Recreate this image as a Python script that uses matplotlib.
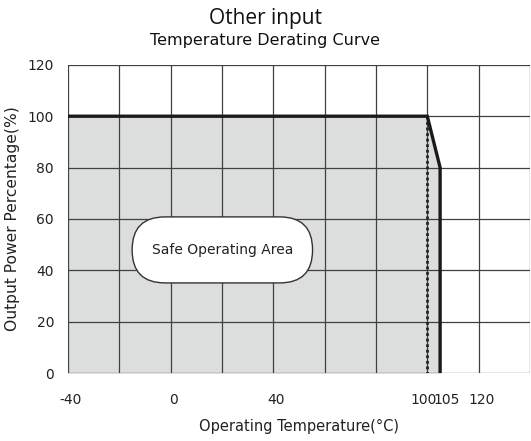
import matplotlib
matplotlib.use("Agg")
import matplotlib.pyplot as plt
import matplotlib.transforms as mtransforms
from matplotlib.patches import FancyBboxPatch

# derating curve
temp = [-40, 100, 105, 105]
power = [100, 100, 80, 0]
limit_temp = [100, 100]
limit_power = [100, 0]

x_ticks = [-40, 0, 40, 100, 105, 120]
y_ticks = [0, 20, 40, 60, 80, 100, 120]
x_grid = [-40, -20, 0, 20, 40, 60, 80, 100, 120, 140]

plt.rcParams["font.family"] = "DejaVu Sans"

fig = plt.figure(figsize=(5.31, 4.41), dpi=100)
ax = fig.add_axes([0.128, 0.154, 0.870, 0.699])

ax.fill_between(temp, power, 0, color="#dcdddd", zorder=1)
for gx in x_grid:
    ax.axvline(gx, color="#404040", lw=0.9, zorder=2)
for gy in y_ticks:
    ax.axhline(gy, color="#404040", lw=0.9, zorder=2)

ax.plot(limit_temp, limit_power, color="#222222", lw=2.0, ls=(0, (1, 1)), zorder=3)
ax.plot(temp, power, color="#1a1a1a", lw=2.4, solid_joinstyle="miter", zorder=4)

pill = FancyBboxPatch((-15, 35.1), 70.3, 25.7,
                      boxstyle="round,pad=0,rounding_size=12.8",
                      facecolor="white", edgecolor="#333333", lw=1.0, zorder=5)
ax.add_patch(pill)
ax.text(20.2, 47.9, "Safe Operating Area", ha="center", va="center",
        fontsize=10, color="#222222", zorder=6)

ax.set_xlim(-40, 140)
ax.set_ylim(0, 120)
ax.set_xticks(x_ticks)
ax.set_xticklabels([str(v) for v in x_ticks])
ax.set_yticks(y_ticks)
ax.tick_params(length=0, labelsize=10, colors="#222222")
ax.tick_params(axis="x", pad=14)
ax.tick_params(axis="y", pad=10)

# pixel nudges so "100" and "105" sit side by side like the original
shifts = {"100": -4, "105": 7}
for lab in ax.get_xticklabels():
    dx = shifts.get(lab.get_text(), 3)
    lab.set_transform(lab.get_transform() +
                      mtransforms.ScaledTranslation(dx / fig.dpi, 0, fig.dpi_scale_trans))

for s in ax.spines.values():
    s.set_visible(False)

ax.set_xlabel("Operating Temperature(\u00b0C)", fontsize=10.5, labelpad=9, color="#222222")
ax.set_ylabel("Output Power Percentage(%)", fontsize=11.2, color="#222222")
ax.yaxis.set_label_coords(-0.104, 0.5)

fig.text(0.5, 0.958, "Other input", ha="center", va="center",
         fontsize=15, family="Open Sans", color="#111111")
fig.text(0.5, 0.908, "Temperature Derating Curve", ha="center", va="center",
         fontsize=11.5, color="#111111")

fig.savefig("out.png", dpi=100)
